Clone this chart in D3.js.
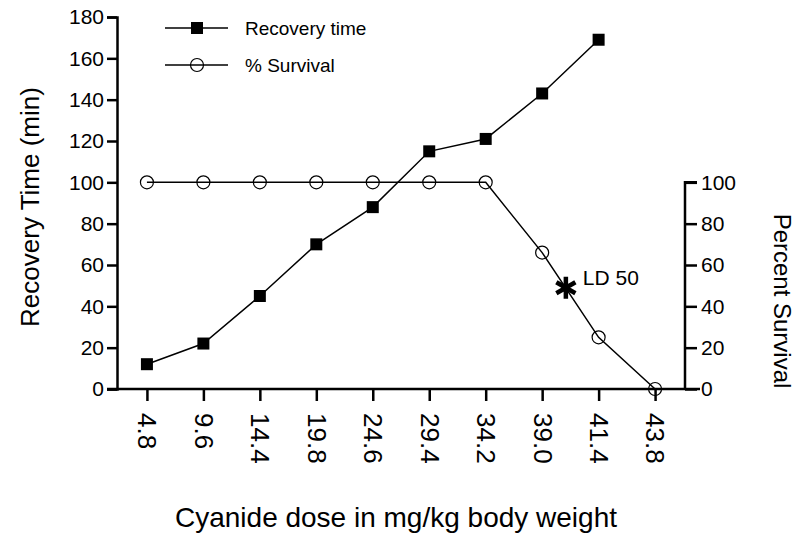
<!DOCTYPE html>
<html><head><meta charset="utf-8">
<script src="https://cdn.jsdelivr.net/npm/d3@7"></script>
<style>body{margin:0;background:#fff;} text{font-family:"Liberation Sans",Arial,sans-serif;fill:#000;}</style>
</head><body>
<svg id="c" width="800" height="541"></svg>
<script>
const doses = ["4.8","9.6","14.4","19.8","24.6","29.4","34.2","39.0","41.4","43.8"];
const recoveryTime = [12,22,45,70,88,115,121,143,169,null];
const survival = [100,100,100,100,100,100,100,66,25,0];
const leftTicks = [0,20,40,60,80,100,120,140,160,180];
const rightTicks = [0,20,40,60,80,100];
const ld50Value = 49;
const ld50Between = ["39.0","41.4"];
const ld50Frac = 0.42;

const svg = d3.select("#c");
const L = 117, R = 685, T = 17, B = 389;
const x = d3.scalePoint().domain(doses).range([L, R]).padding(0.53);
const yL = d3.scaleLinear().domain([0,180]).range([B, T]);
const yR = d3.scaleLinear().domain([0,180]).range([B, T]);

const gL = svg.append("g").attr("transform",`translate(${L},0)`)
  .call(d3.axisLeft(yL).tickValues(leftTicks).tickSize(10).tickPadding(3));
gL.selectAll("text").style("font-size","21px");
const gR = svg.append("g").attr("transform",`translate(${R},0)`)
  .call(d3.axisRight(yR).tickValues(rightTicks).tickSize(12).tickPadding(4));
gR.select(".domain").attr("d",`M12,${yR(100)}H0V${yR(0)}`);
gR.selectAll("text").style("font-size","21px");
const gB = svg.append("g").attr("transform",`translate(0,${B})`)
  .call(d3.axisBottom(x).tickSize(12).tickSizeOuter(0));
gB.select(".domain").attr("d",`M${L-10},0H${R+15}`);
gB.selectAll("text").style("font-size","26px")
  .attr("transform","rotate(90)").attr("text-anchor","start")
  .attr("x",24).attr("y",0).attr("dy","0.35em");
[gL,gR,gB].forEach(g=>{g.selectAll(".domain").attr("stroke-width",2.5).attr("fill","none");
  g.selectAll(".tick line").attr("stroke-width",2.5);
  g.selectAll("text").style("font-family","'Liberation Sans',Arial,sans-serif");});

const recPts = doses.map((d,i)=>({d,v:recoveryTime[i]})).filter(p=>p.v!=null);
const surPts = doses.map((d,i)=>({d,v:survival[i]}));
svg.append("path").datum(recPts).attr("fill","none").attr("stroke","#000").attr("stroke-width",1.5)
  .attr("d",d3.line().x(p=>x(p.d)).y(p=>yL(p.v)));
svg.append("path").datum(surPts).attr("fill","none").attr("stroke","#000").attr("stroke-width",1.5)
  .attr("d",d3.line().x(p=>x(p.d)).y(p=>yR(p.v)));
svg.selectAll(".sq").data(recPts).enter().append("rect")
  .attr("x",p=>x(p.d)-6).attr("y",p=>yL(p.v)-6).attr("width",12).attr("height",12).attr("fill","#000");
svg.selectAll(".ci").data(surPts).enter().append("circle")
  .attr("cx",p=>x(p.d)).attr("cy",p=>yR(p.v)).attr("r",6.5).attr("fill","none").attr("stroke","#000").attr("stroke-width",1.2);

// LD50
const lx = x(ld50Between[0]) + ld50Frac*(x(ld50Between[1])-x(ld50Between[0]));
const ly = yR(ld50Value);
const r = 11;
svg.append("path").attr("transform",`translate(${lx},${ly})`)
  .attr("d",`M0,${r}V${-r}M${-r*0.866},${-r/2}L${r*0.866},${r/2}M${-r*0.866},${r/2}L${r*0.866},${-r/2}`)
  .attr("stroke","#000").attr("stroke-width",4.5).attr("fill","none");
svg.append("text").attr("x",lx+17).attr("y",ly-3).style("font-size","21px").text("LD 50");

const lg = svg.append("g");
[{y:28,t:"Recovery time",m:"sq"},{y:65,t:"% Survival",m:"ci"}].forEach(e=>{
  lg.append("line").attr("x1",165).attr("x2",228).attr("y1",e.y).attr("y2",e.y).attr("stroke","#000").attr("stroke-width",1.5);
  if(e.m==="sq") lg.append("rect").attr("x",191).attr("y",e.y-6).attr("width",12).attr("height",12).attr("fill","#000");
  else lg.append("circle").attr("cx",197).attr("cy",e.y).attr("r",6.5).attr("fill","none").attr("stroke","#000").attr("stroke-width",1.2);
  lg.append("text").attr("x",245).attr("y",e.y).attr("dy","0.35em").style("font-size","19px").text(e.t);
});

svg.append("text").attr("x",396).attr("y",527).attr("text-anchor","middle").style("font-size","28px")
  .text("Cyanide dose in mg/kg body weight");
svg.append("text").attr("transform","translate(39,207) rotate(-90)").attr("text-anchor","middle").style("font-size","26px")
  .text("Recovery Time (min)");
svg.append("text").attr("transform","translate(774,301) rotate(90)").attr("text-anchor","middle").style("font-size","24px")
  .text("Percent Survival");
</script>
</body></html>
